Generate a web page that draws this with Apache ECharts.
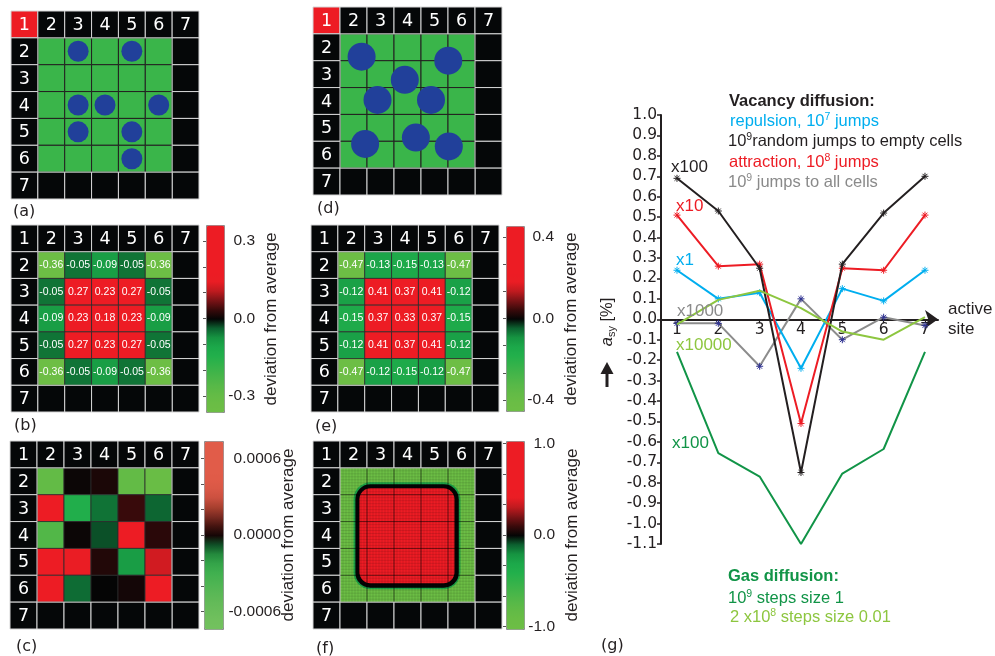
<!DOCTYPE html>
<html>
<head>
<meta charset="utf-8">
<title>Vacancy and gas diffusion asymmetry</title>
<script src="https://cdn.jsdelivr.net/npm/echarts@6.0.0/dist/echarts.min.js"></script>
<style>
html,body{margin:0;padding:0;background:#ffffff;}
#chart{width:995px;height:656px;}
</style>
</head>
<body>
<div id="chart"></div>
<script>
// ================= data =================
const gridTicks = ['1', '2', '3', '4', '5', '6', '7'];
const innerIdx = [2, 3, 4, 5, 6];
// (a) occupied cells [column, row]
const aOccupied = [[3, 2], [5, 2], [3, 4], [4, 4], [6, 4], [3, 5], [5, 5], [5, 6]];
// (d) free particle positions in cell units [x, y]
const dParticles = [[1.80, 1.85], [5.01, 2.00], [3.40, 2.71], [2.39, 3.46], [4.37, 3.46], [1.93, 5.10], [3.81, 4.86], [5.03, 5.19]];
// (b) deviation from average
const bValues = [
  [-0.36, -0.05, -0.09, -0.05, -0.36],
  [-0.05, 0.27, 0.23, 0.27, -0.05],
  [-0.09, 0.23, 0.18, 0.23, -0.09],
  [-0.05, 0.27, 0.23, 0.27, -0.05],
  [-0.36, -0.05, -0.09, -0.05, -0.36]
];
// (e) deviation from average
const eValues = [
  [-0.47, -0.13, -0.15, -0.13, -0.47],
  [-0.12, 0.41, 0.37, 0.41, -0.12],
  [-0.15, 0.37, 0.33, 0.37, -0.15],
  [-0.12, 0.41, 0.37, 0.41, -0.12],
  [-0.47, -0.12, -0.15, -0.12, -0.47]
];
// (c) deviation from average (estimated from colours)
const cValues = [
  [-0.00060, 0.00001, 0.00003, -0.00060, -0.00065],
  [0.00050, -0.00028, -0.00010, 0.00007, -0.00008],
  [-0.00050, 0.00001, -0.00006, 0.00040, 0.00005],
  [0.00050, 0.00030, 0.00004, -0.00018, 0.00025],
  [0.00050, -0.00009, 0.00000, 0.00002, 0.00045]
];
// (f) nested regions: level and extent [x0, y0, x1, y1] in cell units
const fLevels = [-1.0, -0.3, 0.0, 1.0];
const fExtents = [[1, 1, 6, 6], [1.50, 1.54, 5.46, 5.52], [1.57, 1.61, 5.40, 5.46], [1.72, 1.76, 5.24, 5.30]];
// colour bar ticks / labels
const bBarTicks = [-0.3, -0.2, -0.1, 0, 0.1, 0.2, 0.3];
const bBarLabels = [-0.3, 0, 0.3];
const eBarTicks = [-0.4, -0.2667, -0.1333, 0, 0.1333, 0.2667, 0.4];
const eBarLabels = [-0.4, 0, 0.4];
const cBarTicks = [-0.0006, -0.0004, -0.0002, 0, 0.0002, 0.0004, 0.0006];
const cBarLabels = [-0.0006, 0, 0.0006];
const fBarTicks = [-1, -0.6667, -0.3333, 0, 0.3333, 0.6667, 1];
const fBarLabels = [-1, 0, 1];
// (g) asymmetry a_sy [%] per active site
const sites = [1, 2, 3, 4, 5, 6, 7];
const repulsion = [0.24, 0.10, 0.13, -0.24, 0.15, 0.09, 0.24];        // x1
const randomEmpty = [0.69, 0.53, 0.25, -0.75, 0.27, 0.52, 0.70];      // x100
const attraction = [0.51, 0.26, 0.27, -0.51, 0.25, 0.24, 0.51];       // x10
const allCells = [-0.02, -0.02, -0.23, 0.10, -0.10, 0.01, -0.03];     // x1000
const gasStep1 = [-0.16, -0.655, -0.77, -1.10, -0.755, -0.635, -0.16];   // x100
const gasStep001 = [-0.025, 0.095, 0.14, 0.055, -0.06, -0.10, 0.01];  // x10000

// ================= styling / layout =================
const FD = '"DejaVu Sans", sans-serif';
const FL = '"Liberation Sans", Arial, sans-serif';
const INK = '#231f20';
const CELL_BLACK = '#050708';
const RED = '#ed1c24';
const CYAN = '#00aeef';
const GRAY = '#8a8a8a';
const DKGREEN = '#119447';
const LTGREEN = '#8dc63f';

const heatColors = ['#6dbe45', '#6abd45', '#62bb46', '#55b848', '#45b549', '#34b24a', '#22b04b', '#1ca84a',
  '#169441', '#0c6130', '#050505', '#3b0a0b', '#7c1316', '#c01a1f', '#ea1d24', '#ed1c24', '#ed1c24',
  '#ed1c24', '#ed1c24', '#ed1c24', '#ed1c24'];
const salmonColors = ['#73c15e', '#70c05d', '#6abd5b', '#62ba58', '#58b755', '#4cb452', '#40b04f', '#34a449',
  '#248a3d', '#0f4f26', '#150606', '#451410', '#7a2a21', '#a8402f', '#cb5040', '#da5846', '#e05b48',
  '#e15c49', '#e15c49', '#e15c49', '#e15c49'];

const panelRects = [
  {left: 11, top: 11, width: 188, height: 188},   // a
  {left: 313, top: 7, width: 189, height: 188},   // d
  {left: 11, top: 225, width: 188, height: 187},  // b
  {left: 311, top: 225, width: 188, height: 187}, // e
  {left: 10, top: 441, width: 189, height: 188},  // c
  {left: 313, top: 441, width: 189, height: 188}  // f
];
const barRects = [
  {left: 206, top: 225, width: 18, height: 187}, // b
  {left: 506, top: 226, width: 18, height: 185}, // e
  {left: 204, top: 441, width: 19, height: 188}, // c
  {left: 506, top: 441, width: 18, height: 188}  // f
];
const gRect = {left: 661, top: 115, width: 277, height: 429};
const gYMin = -1.1, gYMax = 1.0;
// x axis sits on y = 0: shift it up from the grid bottom by the zero position
const gZeroOffset = -gRect.height * (0 - gYMin) / (gYMax - gYMin);

const grid = panelRects.concat(barRects).concat([gRect]).map(r => Object.assign({outerBoundsMode: 'none', containLabel: false}, r));

const xAxis = [], yAxis = [];
for (let i = 0; i < 6; i++) {
  xAxis.push({type: 'value', gridIndex: i, min: 0, max: 7, show: false});
  yAxis.push({type: 'value', gridIndex: i, min: 0, max: 7, inverse: true, show: false});
}
const barSpecs = [
  {max: 0.362, ticks: bBarTicks, labels: bBarLabels, dec: 1, margin: 31},
  {max: 0.453, ticks: eBarTicks, labels: eBarLabels, dec: 1, margin: 30},
  {max: 0.000735, ticks: cBarTicks, labels: cBarLabels, dec: 4, margin: 58},
  {max: 1.027, ticks: fBarTicks, labels: fBarLabels, dec: 1, margin: 31}
];
barSpecs.forEach((s, k) => {
  const gi = 6 + k;
  xAxis.push({type: 'value', gridIndex: gi, min: 0, max: 1, show: false});
  yAxis.push({
    type: 'value', gridIndex: gi, min: -s.max, max: s.max, position: 'right', z: 10,
    axisLine: {show: false}, splitLine: {show: false},
    axisTick: {show: true, inside: true, length: 3, customValues: s.ticks, lineStyle: {color: '#555', width: 1}},
    axisLabel: {
      show: true, customValues: s.labels, margin: s.margin, align: 'right', fontSize: 15.5,
      fontFamily: FL, color: INK, formatter: v => Number(v).toFixed(s.dec)
    }
  });
});
// (g) axes
xAxis.push({
  type: 'value', gridIndex: 10, min: 0.613, max: 7.315, splitLine: {show: false},
  position: 'bottom', offset: gZeroOffset,
  axisLine: {show: true, onZero: false, symbol: ['none', 'arrow'], symbolSize: [14, 13], lineStyle: {color: INK, width: 2}},
  axisTick: {show: true, customValues: sites, length: 4, lineStyle: {color: INK, width: 1.2}},
  axisLabel: {show: true, customValues: sites, margin: 3, fontSize: 15.5, fontFamily: FD, color: INK, formatter: v => String(v)},
  name: 'active\nsite', nameLocation: 'end', nameGap: 10,
  nameTextStyle: {fontSize: 17, fontFamily: FL, color: INK, align: 'left', verticalAlign: 'middle', lineHeight: 20}
});
yAxis.push({
  type: 'value', gridIndex: 10, min: gYMin, max: gYMax, interval: 0.1, splitLine: {show: false},
  axisLine: {show: true, onZero: false, lineStyle: {color: INK, width: 2}},
  axisTick: {show: true, length: 4, lineStyle: {color: INK, width: 1.5}},
  axisLabel: {
    show: true, margin: 4, fontSize: 15.5, fontFamily: FD, color: INK,
    formatter: v => (Math.abs(v) < 1e-9 ? 0 : v).toFixed(1)
  }
});

// ================= series =================
function cellBox(api, c, r) {
  const p0 = api.coord([c - 1, r - 1]);
  const p1 = api.coord([c, r]);
  return {x: p0[0], y: p0[1], width: p1[0] - p0[0], height: p1[1] - p0[1]};
}

const frameCells = [];
gridTicks.forEach((t, i) => frameCells.push({c: i + 1, r: 1, label: t}));
gridTicks.slice(1).forEach((t, i) => frameCells.push({c: 1, r: i + 2, label: t}));
for (let r = 2; r <= 7; r++) frameCells.push({c: 7, r: r, label: ''});
for (let c = 2; c <= 6; c++) frameCells.push({c: c, r: 7, label: ''});

const emptyCells = [];
innerIdx.forEach(r => innerIdx.forEach(c => emptyCells.push([c, r])));

function frameSeries(g, redCorner) {
  return {
    type: 'custom', coordinateSystem: 'cartesian2d', xAxisIndex: g, yAxisIndex: g, z: 3, silent: true,
    data: frameCells.map(f => [f.c, f.r]),
    renderItem: (params, api) => {
      const f = frameCells[params.dataIndex];
      const b = cellBox(api, f.c, f.r);
      return {
        type: 'group', children: [
          {type: 'rect', shape: b, style: {fill: (redCorner && f.c === 1 && f.r === 1) ? RED : CELL_BLACK, stroke: '#d6d6d6', lineWidth: 1}},
          {type: 'text', x: b.x + b.width / 2, y: b.y + b.height / 2 + 1,
            style: {text: f.label, align: 'center', verticalAlign: 'middle', fill: '#ffffff', fontSize: 17.5, fontFamily: FD}}
        ]
      };
    }
  };
}

function emptySeries(g) {
  return {
    type: 'custom', coordinateSystem: 'cartesian2d', xAxisIndex: g, yAxisIndex: g, z: 2, silent: true,
    data: emptyCells,
    renderItem: (params, api) => ({
      type: 'rect', shape: cellBox(api, api.value(0), api.value(1)),
      style: {fill: '#3ab54a', stroke: INK, lineWidth: 1}
    })
  };
}

function heatSeries(g, values, withLabels) {
  const data = [];
  values.forEach((row, ri) => row.forEach((v, ci) => data.push([innerIdx[ci], innerIdx[ri], v])));
  return {
    type: 'custom', coordinateSystem: 'cartesian2d', xAxisIndex: g, yAxisIndex: g, z: 2, silent: true,
    data: data,
    renderItem: (params, api) => {
      const b = cellBox(api, api.value(0), api.value(1));
      const v = api.value(2);
      const children = [{type: 'rect', shape: b, style: {fill: api.visual('color'), stroke: '#2b2b2b', lineWidth: 0.8}}];
      if (withLabels) {
        children.push({type: 'text', x: b.x + b.width / 2, y: b.y + b.height / 2,
          style: {text: v.toFixed(2), align: 'center', verticalAlign: 'middle', fill: '#ffffff', fontSize: 10.5, fontFamily: FL}});
      }
      return {type: 'group', children: children};
    }
  };
}

// fine simulation mesh drawn inside each cell of panel (f) (texture only)
const MESH_DIV = 9;
function meshCell(params, api) {
  const b = cellBox(api, api.value(0), api.value(1));
  const children = [{type: 'rect', shape: b, style: {fill: 'none', stroke: 'rgba(0,0,0,0.32)', lineWidth: 1}}];
  for (let k = 1; k < MESH_DIV; k++) {
    const x = b.x + b.width * k / MESH_DIV;
    const y = b.y + b.height * k / MESH_DIV;
    children.push({type: 'line', shape: {x1: x, y1: b.y, x2: x, y2: b.y + b.height}, style: {stroke: 'rgba(0,0,0,0.10)', lineWidth: 1}});
    children.push({type: 'line', shape: {x1: b.x, y1: y, x2: b.x + b.width, y2: y}, style: {stroke: 'rgba(0,0,0,0.10)', lineWidth: 1}});
  }
  return {type: 'group', children: children};
}

const fRadius = [0, 17, 15, 11];
const series = [
  emptySeries(0),                 // 0
  frameSeries(0, true),           // 1
  {type: 'scatter', xAxisIndex: 0, yAxisIndex: 0, z: 4, silent: true,
    data: aOccupied.map(p => [p[0] - 0.5, p[1] - 0.5]), symbolSize: 21,
    itemStyle: {color: '#21409a', opacity: 1}},                     // 2
  emptySeries(1),                 // 3
  frameSeries(1, true),           // 4
  {type: 'scatter', xAxisIndex: 1, yAxisIndex: 1, z: 4, silent: true,
    data: dParticles, symbolSize: 28, itemStyle: {color: '#21409a', opacity: 1}}, // 5
  heatSeries(2, bValues, true),   // 6
  frameSeries(2, false),          // 7
  heatSeries(3, eValues, true),   // 8
  frameSeries(3, false),          // 9
  heatSeries(4, cValues, false),  // 10
  frameSeries(4, false),          // 11
  {type: 'custom', coordinateSystem: 'cartesian2d', xAxisIndex: 5, yAxisIndex: 5, z: 2, silent: true,
    data: fExtents.map((e, i) => [e[0], e[1], e[2], e[3], fLevels[i]]),
    renderItem: (params, api) => {
      const p0 = api.coord([api.value(0), api.value(1)]);
      const p1 = api.coord([api.value(2), api.value(3)]);
      return {type: 'rect', shape: {x: p0[0], y: p0[1], width: p1[0] - p0[0], height: p1[1] - p0[1], r: fRadius[params.dataIndex]},
        style: {fill: api.visual('color')}};
    }},                            // 12
  {type: 'custom', coordinateSystem: 'cartesian2d', xAxisIndex: 5, yAxisIndex: 5, z: 2.5, silent: true,
    data: emptyCells, renderItem: meshCell},                        // 13
  frameSeries(5, false),          // 14
  {type: 'custom', coordinateSystem: 'cartesian2d', xAxisIndex: 8, yAxisIndex: 8, data: [], renderItem: () => null} // 15
];

const asterisk = 'path://M5,0L5,10M0,5L10,5M1.5,1.5L8.5,8.5M1.5,8.5L8.5,1.5';
function lineSeries(values, color, markColor, withMarks, z) {
  return {
    type: 'line', xAxisIndex: 10, yAxisIndex: 10, z: z, silent: true, clip: false,
    data: sites.map((s, i) => [s, values[i]]),
    lineStyle: {color: color, width: 2},
    symbol: withMarks ? asterisk : 'none', symbolSize: 7, showSymbol: withMarks,
    itemStyle: {color: markColor, borderColor: markColor, borderWidth: 1}
  };
}
series.push(lineSeries(allCells, '#8c8c8c', '#2e3192', true, 3));   // 16
series.push(lineSeries(repulsion, CYAN, CYAN, true, 4));            // 17
series.push(lineSeries(attraction, RED, RED, true, 5));             // 18
series.push(lineSeries(randomEmpty, INK, INK, true, 6));            // 19
series.push(lineSeries(gasStep001, LTGREEN, LTGREEN, false, 7));    // 20
series.push(lineSeries(gasStep1, DKGREEN, DKGREEN, false, 7));      // 21

// ================= visual maps (colour bars) =================
function barVM(rect, extra) {
  return Object.assign({
    type: 'continuous', show: true, calculable: false, orient: 'vertical', inverse: false,
    left: rect.left, top: rect.top, itemWidth: rect.width, itemHeight: rect.height,
    padding: 0, borderWidth: 1, borderColor: '#8c8c8c', hoverLink: false, text: null
  }, extra);
}
const visualMap = [
  barVM(barRects[0], {seriesIndex: 6, dimension: 2, min: -0.362, max: 0.362, inRange: {color: heatColors}}),
  barVM(barRects[1], {seriesIndex: 8, dimension: 2, min: -0.453, max: 0.453, inRange: {color: heatColors}}),
  {type: 'continuous', show: false, seriesIndex: 10, dimension: 2, min: -0.000735, max: 0.000735, inRange: {color: heatColors}},
  barVM(barRects[2], {seriesIndex: 15, dimension: 0, min: -0.000735, max: 0.000735, inRange: {color: salmonColors}}),
  barVM(barRects[3], {seriesIndex: 12, dimension: 4, min: -1.027, max: 1.027, inRange: {color: heatColors}})
];

// ================= text annotations =================
const graphic = [];
function addText(x, y, text, o) {
  o = o || {};
  const style = {
    text: text, fill: o.fill || INK, fontSize: o.size || 16, fontFamily: o.font || FL,
    fontWeight: o.weight || 'normal', align: o.align || 'left', verticalAlign: 'middle'
  };
  if (o.rich) style.rich = o.rich;
  graphic.push({type: 'text', x: x, y: y, rotation: o.rot || 0, silent: true, z: 100, style: style});
}
function supRich(color, size, weight) {
  return {
    t: {fontSize: size, fontFamily: FL, fill: color, fontWeight: weight || 'normal', lineHeight: 20},
    s: {fontSize: 10.5, fontFamily: FL, fill: color, verticalAlign: 'top', lineHeight: 12}
  };
}

// panel letters
[['(a)', 13, 212], ['(b)', 14, 426], ['(c)', 16, 646.5], ['(d)', 317, 208.5],
 ['(e)', 315, 427], ['(f)', 316, 648.5], ['(g)', 601, 646]].forEach(p => addText(p[1], p[2], p[0], {font: FD, size: 16}));

// colour bar titles
[[271, 319], [571, 319], [288, 535], [572, 535]].forEach(p =>
  addText(p[0], p[1], 'deviation from average', {size: 17, align: 'center', rot: Math.PI / 2}));

// (g) legend texts
addText(729, 101, 'Vacancy diffusion:', {size: 16.5, weight: 'bold'});
addText(730, 121.3, '{t|repulsion, 10}{s|7}{t| jumps}', {rich: supRich(CYAN, 16.5), fill: CYAN});
addText(728, 141.7, '{t|10}{s|9}{t|random jumps to empty cells}', {rich: supRich(INK, 16.5)});
addText(729, 162.8, '{t|attraction, 10}{s|8}{t| jumps}', {rich: supRich(RED, 16.5), fill: RED});
addText(728, 182.5, '{t|10}{s|9}{t| jumps to all cells}', {rich: supRich(GRAY, 16.5), fill: GRAY});
addText(728, 576.5, 'Gas diffusion:', {size: 16.5, weight: 'bold', fill: DKGREEN});
addText(728, 598.7, '{t|10}{s|9}{t| steps size 1}', {rich: supRich(DKGREEN, 16.5), fill: DKGREEN});
addText(730, 617.5, '{t|2 x10}{s|8}{t| steps size 0.01}', {rich: supRich(LTGREEN, 16.5), fill: LTGREEN});

// scale factors next to the curves
addText(671, 167.5, 'x100', {size: 17, fill: INK});
addText(676, 206.7, 'x10', {size: 17, fill: RED});
addText(676, 260.5, 'x1', {size: 17, fill: CYAN});
addText(677, 311, 'x1000', {size: 17, fill: GRAY});
addText(676, 345, 'x10000', {size: 17, fill: LTGREEN});
addText(672, 443.3, 'x100', {size: 17, fill: DKGREEN});

// y-axis name with arrow
addText(607, 322, '{i|a}{b|sy}{n| [%]}', {
  align: 'center', rot: Math.PI / 2,
  rich: {
    i: {fontSize: 16.5, fontFamily: FL, fontStyle: 'italic', fill: INK, lineHeight: 20},
    b: {fontSize: 11, fontFamily: FL, fill: INK, verticalAlign: 'bottom', lineHeight: 12},
    n: {fontSize: 16.5, fontFamily: FL, fill: INK, lineHeight: 20}
  }
});
graphic.push({type: 'polygon', silent: true, z: 100, shape: {points: [[600.5, 374], [607, 362], [613.5, 374]]}, style: {fill: INK}});
graphic.push({type: 'line', silent: true, z: 100, shape: {x1: 607, y1: 373, x2: 607, y2: 387}, style: {stroke: INK, lineWidth: 3}});

// ================= chart =================
const chart = echarts.init(document.getElementById('chart'), null, {renderer: 'canvas', width: 995, height: 656});
chart.setOption({
  animation: false,
  backgroundColor: '#ffffff',
  grid: grid,
  xAxis: xAxis,
  yAxis: yAxis,
  visualMap: visualMap,
  series: series,
  graphic: graphic
});
</script>
</body>
</html>
